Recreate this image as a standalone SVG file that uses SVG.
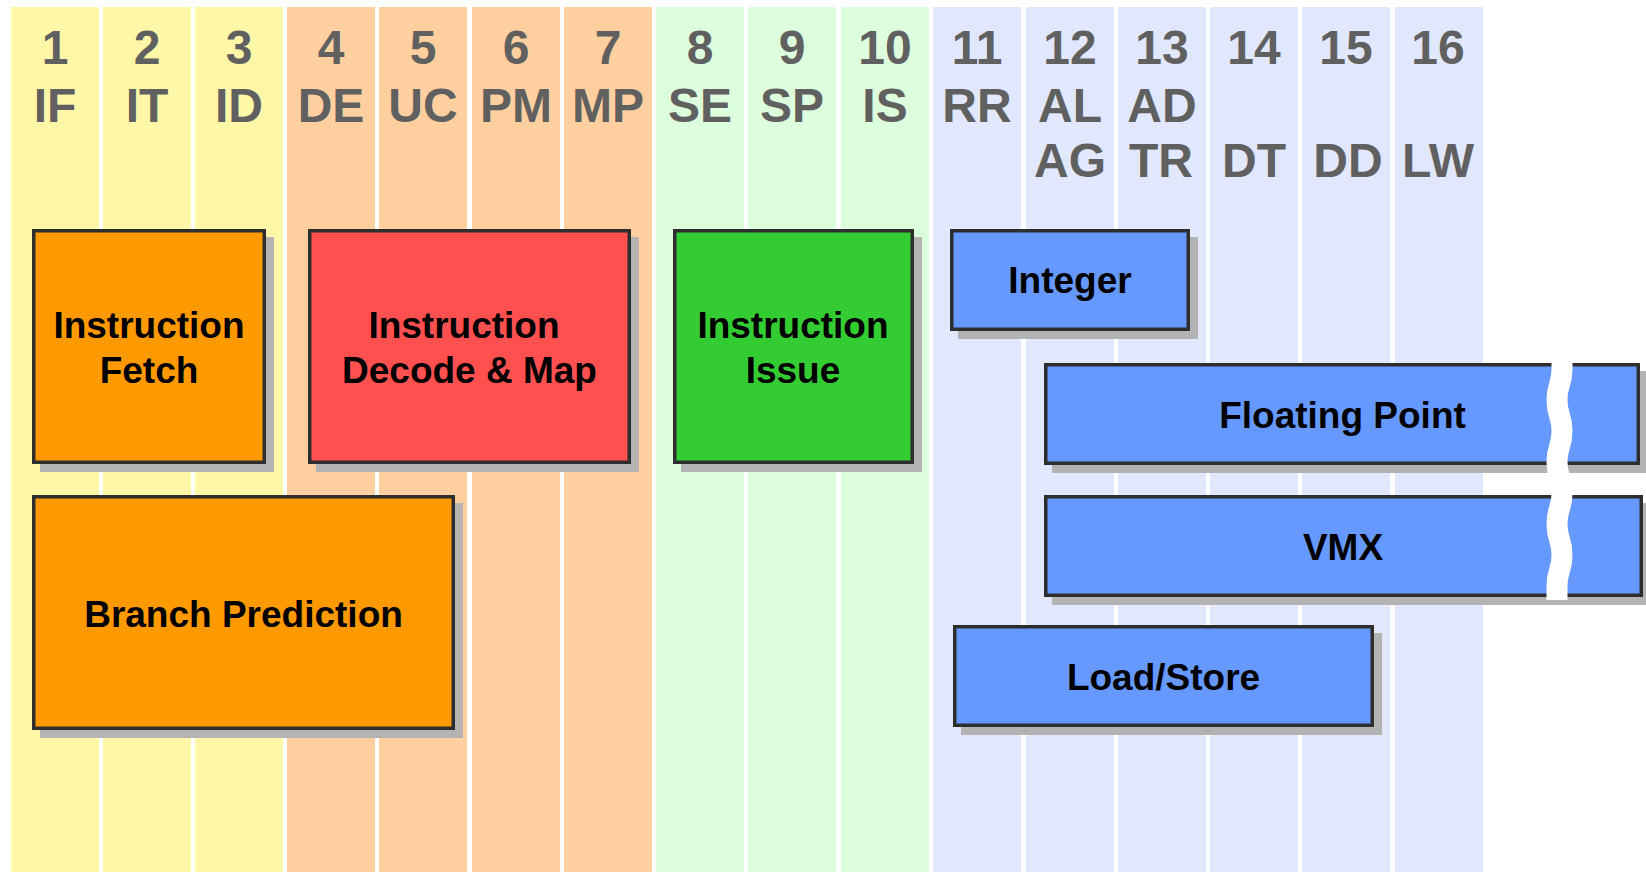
<svg xmlns="http://www.w3.org/2000/svg" width="1646" height="872" viewBox="0 0 1646 872">
  <style>
    .c-fetch { fill: #fff7a8; }
    .c-decode { fill: #ffcf9f; }
    .c-issue { fill: #dcfedc; }
    .c-exec { fill: #e1e8fd; }
    .hdr { font-family: "Liberation Sans", Arial, Helvetica, sans-serif; font-weight: bold; font-size: 48px; fill: #606060; text-anchor: middle; }
    .lbl { font-family: "Liberation Sans", Arial, Helvetica, sans-serif; font-weight: bold; font-size: 37px; fill: #000000; text-anchor: middle; }
    .shadow { fill: #b3b3b3; }
    .box { stroke: #2e2e2e; stroke-width: 3.5; }
    .orange { fill: #ff9900; }
    .red { fill: #ff5050; }
    .green { fill: #33cc33; }
    .blue { fill: #6699ff; }
    .break { fill: none; stroke: #ffffff; stroke-width: 21; stroke-linecap: butt; }
  </style>

  <rect width="1646" height="872" fill="#ffffff"/>

  <!-- pipeline stage columns -->
  <g id="stage-columns">
    <rect class="c-fetch" x="11" y="7" width="88" height="865"/>
    <rect class="c-fetch" x="103" y="7" width="88" height="865"/>
    <rect class="c-fetch" x="195" y="7" width="88" height="865"/>
    <rect class="c-decode" x="287" y="7" width="88" height="865"/>
    <rect class="c-decode" x="379" y="7" width="88" height="865"/>
    <rect class="c-decode" x="472" y="7" width="88" height="865"/>
    <rect class="c-decode" x="564" y="7" width="88" height="865"/>
    <rect class="c-issue" x="656" y="7" width="88" height="865"/>
    <rect class="c-issue" x="748" y="7" width="88" height="865"/>
    <rect class="c-issue" x="841" y="7" width="88" height="865"/>
    <rect class="c-exec" x="933" y="7" width="88" height="865"/>
    <rect class="c-exec" x="1026" y="7" width="88" height="865"/>
    <rect class="c-exec" x="1118" y="7" width="88" height="865"/>
    <rect class="c-exec" x="1210" y="7" width="88" height="865"/>
    <rect class="c-exec" x="1302" y="7" width="88" height="865"/>
    <rect class="c-exec" x="1395" y="7" width="88" height="865"/>
  </g>

  <!-- stage numbers and mnemonics -->
  <g id="stage-headers">
    <text class="hdr" x="55" y="64">1</text>
    <text class="hdr" x="147" y="64">2</text>
    <text class="hdr" x="239" y="64">3</text>
    <text class="hdr" x="331" y="64">4</text>
    <text class="hdr" x="423" y="64">5</text>
    <text class="hdr" x="516" y="64">6</text>
    <text class="hdr" x="608" y="64">7</text>
    <text class="hdr" x="700" y="64">8</text>
    <text class="hdr" x="792" y="64">9</text>
    <text class="hdr" x="885" y="64">10</text>
    <text class="hdr" x="977" y="64">11</text>
    <text class="hdr" x="1070" y="64">12</text>
    <text class="hdr" x="1162" y="64">13</text>
    <text class="hdr" x="1254" y="64">14</text>
    <text class="hdr" x="1346" y="64">15</text>
    <text class="hdr" x="1438" y="64">16</text>

    <text class="hdr" x="55" y="122">IF</text>
    <text class="hdr" x="147" y="122">IT</text>
    <text class="hdr" x="239" y="122">ID</text>
    <text class="hdr" x="331" y="122">DE</text>
    <text class="hdr" x="423" y="122">UC</text>
    <text class="hdr" x="516" y="122">PM</text>
    <text class="hdr" x="608" y="122">MP</text>
    <text class="hdr" x="700" y="122">SE</text>
    <text class="hdr" x="792" y="122">SP</text>
    <text class="hdr" x="885" y="122">IS</text>
    <text class="hdr" x="977" y="122">RR</text>
    <text class="hdr" x="1070" y="122">AL</text>
    <text class="hdr" x="1162" y="122">AD</text>

    <text class="hdr" x="1070" y="177">AG</text>
    <text class="hdr" x="1161" y="177">TR</text>
    <text class="hdr" x="1254" y="177">DT</text>
    <text class="hdr" x="1348" y="177">DD</text>
    <text class="hdr" x="1438" y="177">LW</text>
  </g>

  <g id="instruction-fetch">
    <rect class="shadow" x="40" y="237" width="234" height="235"/>
    <rect class="box orange" x="33.75" y="230.75" width="230.5" height="231.5"/>
    <text class="lbl" x="149" y="337.5">Instruction</text>
    <text class="lbl" x="149" y="383">Fetch</text>
  </g>

  <g id="instruction-decode-map">
    <rect class="shadow" x="316" y="237" width="323" height="235"/>
    <rect class="box red" x="309.75" y="230.75" width="319.5" height="231.5"/>
    <text class="lbl" x="464" y="337.5">Instruction</text>
    <text class="lbl" x="469.5" y="383">Decode &amp; Map</text>
  </g>

  <g id="instruction-issue">
    <rect class="shadow" x="681" y="237" width="241" height="235"/>
    <rect class="box green" x="674.75" y="230.75" width="237.5" height="231.5"/>
    <text class="lbl" x="793" y="337.5">Instruction</text>
    <text class="lbl" x="793" y="382.5">Issue</text>
  </g>

  <g id="branch-prediction">
    <rect class="shadow" x="40" y="503" width="423" height="235"/>
    <rect class="box orange" x="33.75" y="496.75" width="419.5" height="231.5"/>
    <text class="lbl" x="243.5" y="627.3">Branch Prediction</text>
  </g>

  <g id="integer">
    <rect class="shadow" x="958" y="237" width="240" height="102"/>
    <rect class="box blue" x="951.75" y="230.75" width="236.5" height="98.5"/>
    <text class="lbl" x="1070" y="293.3">Integer</text>
  </g>

  <g id="floating-point">
    <rect class="shadow" x="1052" y="371" width="596" height="102"/>
    <rect class="box blue" x="1045.75" y="364.75" width="592.5" height="98.5"/>
    <text class="lbl" x="1342.5" y="428.3">Floating Point</text>
  </g>

  <g id="vmx">
    <rect class="shadow" x="1052" y="503" width="599" height="102"/>
    <rect class="box blue" x="1045.75" y="496.75" width="595.5" height="98.5"/>
    <text class="lbl" x="1343" y="560">VMX</text>
  </g>

  <g id="load-store">
    <rect class="shadow" x="961" y="633" width="421" height="102"/>
    <rect class="box blue" x="954.75" y="626.75" width="417.5" height="98.5"/>
    <text class="lbl" x="1163.5" y="690">Load/Store</text>
  </g>

  <!-- wavy cut through the long floating point / VMX pipelines -->
  <g id="connectors">
    <path class="break" d="M 1562 358 L 1562 369 C 1562 385 1557 384 1557 400 C 1557 416 1562 415 1562 431 C 1562 447 1557 446 1557 462 C 1557 478 1562 477 1562 493 C 1562 509 1557 508 1557 524 C 1557 540 1562 539 1562 555 C 1562 571 1557 570 1557 586 L 1557 600"/>
  </g>
</svg>
